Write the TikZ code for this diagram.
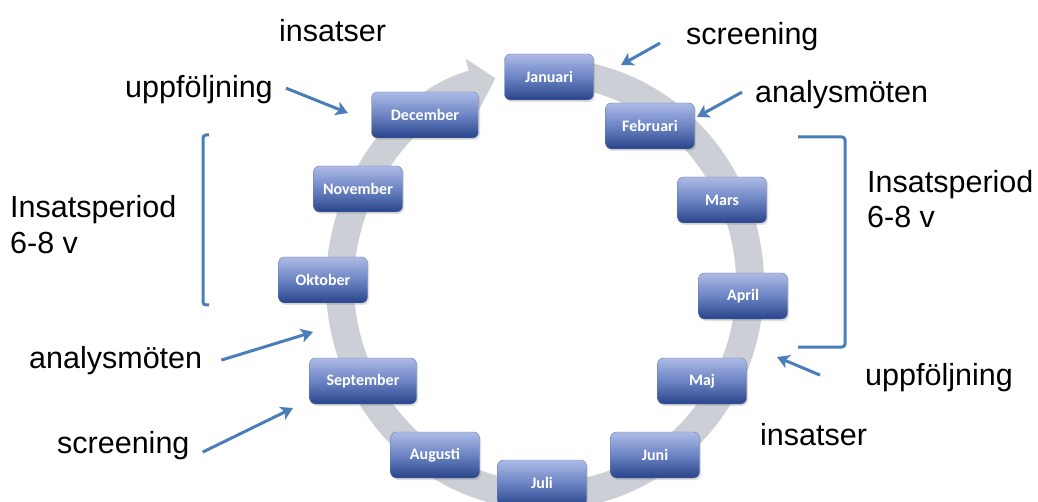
\documentclass[tikz,border=0pt]{standalone}
\usepackage{fontspec}
\setmainfont{Liberation Sans}
\newfontfamily\boxfont{Carlito}
\usetikzlibrary{arrows.meta,positioning,calc,shadows}

\definecolor{ringgray}{RGB}{205,207,214}
\definecolor{arrowblue}{RGB}{74,126,187}
\definecolor{monthtop}{RGB}{172,186,230}
\definecolor{monthmid}{RGB}{108,132,196}
\definecolor{monthbot}{RGB}{40,68,138}

\begin{document}
\begin{tikzpicture}[
    x=1pt,
    y=1pt,
    month/.style={
        rectangle,
        draw=monthbot!70,
        top color=monthtop,
        bottom color=monthbot,
        middle color=monthmid,
        rounded corners=6pt,
        minimum width=89pt,
        minimum height=46pt,
        text=white,
        drop shadow={opacity=0.25, shadow xshift=1.5pt, shadow yshift=-2pt},
        font=\boxfont\bfseries\fontsize{16}{19}\selectfont
    },
    wide/.style={
        minimum width=107pt
    },
    lbltext/.style={
        inner sep=0pt,
        anchor=base west,
        font=\fontsize{30.5}{36}\selectfont
    },
    ring/.style={
        draw=ringgray,
        line width=28pt,
        -{Triangle[length=24pt,width=52pt]}
    },
    pointer/.style={
        draw=arrowblue,
        line width=3pt,
        -{Stealth[length=12pt,width=14pt,inset=3pt]}
    },
    bracket/.style={
        draw=arrowblue,
        line width=3pt,
        rounded corners=3pt
    }
]
    \useasboundingbox (0,0) rectangle (1038,501);

    % Year ring
    \draw[ring] (545,217) ++(78:205 and 212)
        arc[start angle=78, end angle=-256, x radius=205, y radius=212];

    % Months
    \node [month] (jan) at (549,424) {Januari};
    \node [month] (feb) at (650,375) {Februari};
    \node [month] (mar) at (722,301) {Mars};
    \node [month] (apr) at (743,205) {April};
    \node [month] (maj) at (702,120) {Maj};
    \node [month] (jun) at (655,46) {Juni};
    \node [month] (jul) at (542,18) {Juli};
    \node [month] (aug) at (435,46) {Augusti};
    \node [month, wide] (sep) at (363,120) {September};
    \node [month] (okt) at (323,221) {Oktober};
    \node [month] (nov) at (358,312) {November};
    \node [month, wide] (dec) at (425,386) {December};

    % Labels
    \node [lbltext] (insA) at (279,459) {insatser};
    \node [lbltext] (uppA) at (125,403) {uppföljning};
    \node [lbltext, anchor=north west, align=left] (perA) at (10,305.5) {Insatsperiod\\6-8 v};
    \node [lbltext] (anaA) at (29,133) {analysmöten};
    \node [lbltext] (scrA) at (57,48) {screening};
    \node [lbltext] (scrB) at (686,456) {screening};
    \node [lbltext] (anaB) at (755,398) {analysmöten};
    \node [lbltext, anchor=north west, align=left, font=\fontsize{30.5}{35}\selectfont] (perB) at (867,330.5) {Insatsperiod\\6-8 v};
    \node [lbltext] (uppB) at (865,116) {uppföljning};
    \node [lbltext] (insB) at (760,56) {insatser};

    % Arrow tips
    \coordinate (uppAtip) at (348,388);
    \coordinate (anaAtip) at (313,169);
    \coordinate (scrAtip) at (293,93);
    \coordinate (scrBtip) at (621,436);
    \coordinate (anaBtip) at (697,384);
    \coordinate (uppBtip) at (777,144);

    % Arrows
    \path [pointer] ([shift={(13,2)}]uppA.east) -- (uppAtip);
    \path [pointer] ([shift={(19,0)}]anaA.east) -- (anaAtip);
    \path [pointer] ([shift={(13,-7)}]scrA.east) -- (scrAtip);
    \path [pointer] ([shift={(-26,-6)}]scrB.west) -- (scrBtip);
    \path [pointer] ([shift={(-13,3)}]anaB.west) -- (anaBtip);
    \path [pointer] ([shift={(-45,2)}]uppB.west) -- (uppBtip);

    % Brackets
    \draw [bracket] (209,366) -- (203,366) -- (203,196) -- (209,196);
    \draw [bracket] (798,364) -- (845,364) -- (845,154) -- (798,154);

\end{tikzpicture}
\end{document}
